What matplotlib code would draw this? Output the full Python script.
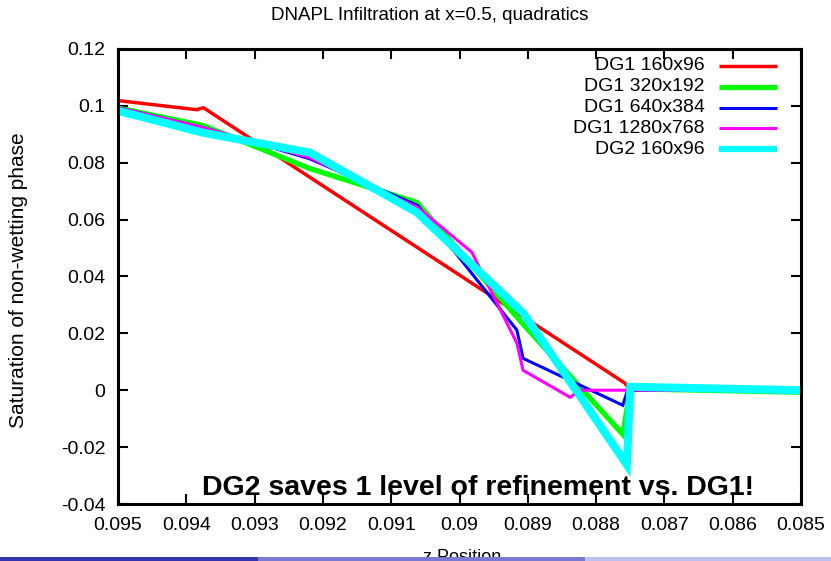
import numpy as np
import matplotlib.pyplot as plt
from matplotlib.patches import Rectangle
from matplotlib.ticker import FuncFormatter

plt.rcParams['font.family'] = ['Liberation Sans', 'DejaVu Sans']

# ==========================================
# Data
# ==========================================
labels = ['DG1 160x96', 'DG1 320x192', 'DG1 640x384', 'DG1 1280x768', 'DG2 160x96']

z_red = [0.095, 0.09385, 0.09375, 0.08758, 0.0875, 0.085]
s_red = [0.1018, 0.0986, 0.0993, 0.0025, 0.0, 0.0]

z_green = [0.095, 0.09375, 0.0922, 0.090625, 0.08906, 0.08761, 0.0875, 0.085]
s_green = [0.0992, 0.0930, 0.0780, 0.0660, 0.0230, -0.0155, 0.0005, -0.0007]

z_blue = [0.095, 0.09375, 0.0922, 0.09061, 0.08916, 0.08907, 0.08761, 0.08754, 0.085]
s_blue = [0.0993, 0.0923, 0.0814, 0.0649, 0.0211, 0.0112, -0.0053, 0.0, 0.0]

z_mag = [0.095, 0.09375, 0.0922, 0.09061, 0.08982, 0.08916, 0.08907, 0.08838, 0.08824, 0.085]
s_mag = [0.0993, 0.0923, 0.0818, 0.0642, 0.0485, 0.0165, 0.0070, -0.0025, 0.0, 0.0]

z_cyan = [0.095, 0.09375, 0.0921875, 0.090625, 0.0890625, 0.08755, 0.0875, 0.085]
s_cyan = [0.0982, 0.0905, 0.0835, 0.0625, 0.0270, -0.0262, 0.0012, 0.0]

colors = ['#ff0000', '#00ff00', '#0000ff', '#ff00ff', '#00ffff']
widths = [2.5, 3.8, 2.2, 2.2, 5.8]

x_ticks = [0.095, 0.094, 0.093, 0.092, 0.091, 0.09, 0.089, 0.088, 0.087, 0.086, 0.085]
y_ticks = [-0.04, -0.02, 0, 0.02, 0.04, 0.06, 0.08, 0.1, 0.12]

# ==========================================
# Plotting
# ==========================================
fig = plt.figure(figsize=(8.31, 5.61), dpi=100)
ax = fig.add_axes([0.142, 0.1016, 0.822, 0.8114])

series = [(z_red, s_red), (z_green, s_green), (z_blue, s_blue), (z_mag, s_mag), (z_cyan, s_cyan)]
for (z, s), c, lw in zip(series, colors, widths):
    ax.plot(z, s, color=c, linewidth=lw, solid_joinstyle='miter')

ax.set_xlim(0.095, 0.085)
ax.set_ylim(-0.04, 0.12)
ax.set_xticks(x_ticks)
ax.set_yticks(y_ticks)
fmt = FuncFormatter(lambda v, p: '%g' % round(v, 6))
ax.xaxis.set_major_formatter(fmt)
ax.yaxis.set_major_formatter(fmt)
ax.tick_params(direction='in', length=7, width=1.5, top=True, right=True,
               labelsize=14, pad=9)
for sp in ax.spines.values():
    sp.set_linewidth(2.2)

# gnuplot style key: label right-aligned, sample on the right
for i, (lab, c, lw) in enumerate(zip(labels, colors, widths)):
    yk = 0.963 - i * 0.046
    ax.text(0.859, yk, lab, transform=ax.transAxes, ha='right', va='center', fontsize=14)
    ax.plot([0.880, 0.965], [yk, yk], transform=ax.transAxes, color=c,
            linewidth=min(lw, 4.5), solid_capstyle='butt', clip_on=False)

ax.text(0.527, 0.02, 'DG2 saves 1 level of refinement vs. DG1!', transform=ax.transAxes,
        ha='center', va='baseline', fontsize=20.5, fontweight='bold')

fig.text(0.517, 0.972, 'DNAPL Infiltration at x=0.5, quadratics', ha='center', va='center', fontsize=13.5)
fig.text(0.022, 0.5, 'Saturation of non-wetting phase', rotation=90, ha='center', va='center', fontsize=15)
fig.text(0.556, 0.021, 'z Position', ha='center', va='top', fontsize=13)

# slide footer strip
for x0, w, c in [(0.0, 0.31, '#3535b0'), (0.31, 0.394, '#7a7ad0'), (0.704, 0.296, '#c0c0f0')]:
    fig.patches.append(Rectangle((x0, 0.0), w, 0.007, transform=fig.transFigure,
                                 facecolor=c, edgecolor='none', zorder=5))

fig.savefig('out.png', dpi=100)
